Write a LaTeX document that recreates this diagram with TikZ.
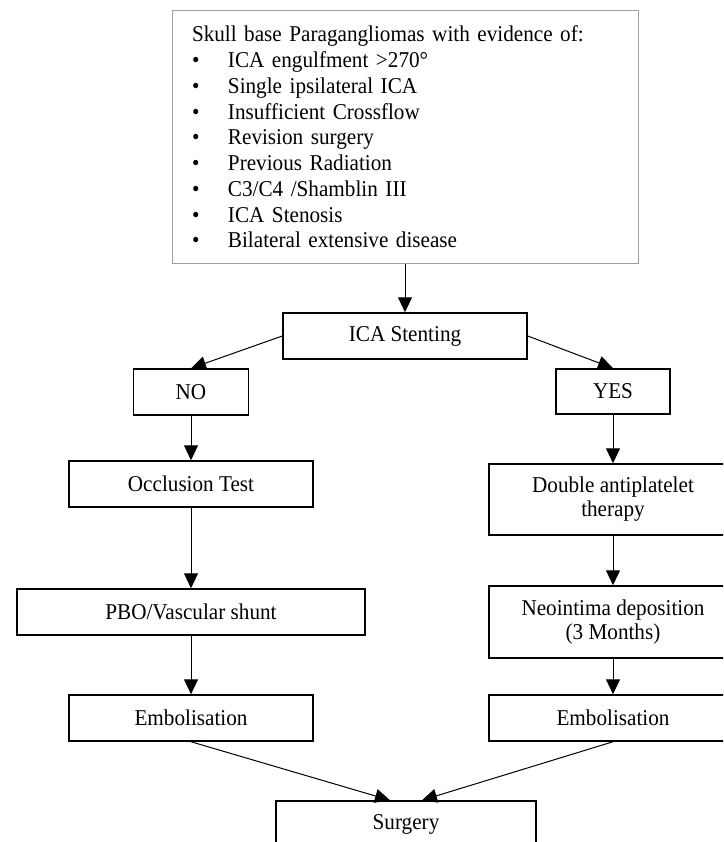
\documentclass[tikz,border=0pt]{standalone}
\usepackage{fontspec}
\setmainfont{Liberation Serif}[FakeStretch=0.937]
\usetikzlibrary{arrows.meta}

\newcommand{\critem}{\makebox[36pt][l]{•}}

\begin{document}
\begin{tikzpicture}[x=1pt,y=-1pt,
	box/.style={draw,line width=1.5pt,align=center,inner sep=0pt,font=\fontsize{22.6}{24}\selectfont},
	arr/.style={line width=1pt,-{Triangle[width=14pt,length=15pt]}}]
	\useasboundingbox (0,0) rectangle (723,842);
	\clip (0,0) rectangle (723,842);

	\node[draw=gray!75,line width=1pt,minimum width=466pt,minimum height=252pt,
		text width=426pt,inner xsep=20pt,inner ysep=0pt,align=left,
		font=\fontsize{22.6}{25.75}\selectfont] (crit) at (405,137)
		{Skull base Paragangliomas with evidence of:\\
		\critem ICA engulfment >270°\\
		\critem Single ipsilateral ICA\\
		\critem Insufficient Crossflow\\
		\critem Revision surgery\\
		\critem Previous Radiation\\
		\critem C3/C4 /Shamblin III\\
		\critem ICA Stenosis\\
		\critem Bilateral extensive disease};

	\node[box,minimum width=244pt,minimum height=46pt] (stent) at (405,336) {ICA Stenting};
	\node[box,minimum width=115pt,minimum height=46pt] (no) at (191,392) {NO};
	\node[box,minimum width=114pt,minimum height=45pt] (yes) at (613,391.5) {YES};

	\node[box,minimum width=244pt,minimum height=46pt] (occl) at (191,484) {Occlusion Test};
	\node[box,minimum width=348pt,minimum height=46pt] (pbo) at (191,612) {PBO/Vascular shunt};
	\node[box,minimum width=244pt,minimum height=46pt] (emb1) at (191,718) {Embolisation};

	\node[box,minimum width=248pt,minimum height=71pt] (dapt) at (613,499.5) {Double antiplatelet\\therapy};
	\node[box,minimum width=248pt,minimum height=72pt] (neo) at (613,622) {Neointima deposition\\(3 Months)};
	\node[box,minimum width=248pt,minimum height=46pt] (emb2) at (613,718) {Embolisation};

	\node[box,minimum width=260pt,minimum height=46pt] (surg) at (406,824) {Surgery};
	\coordinate (surgl) at ([xshift=-16pt]surg.north);
	\coordinate (surgr) at ([xshift=16pt]surg.north);

	\draw[arr] (crit) -- (stent);
	\draw[arr] (stent.west) -- (no.north);
	\draw[arr] (stent.east) -- (yes.north);
	\draw[arr] (no) -- (occl);
	\draw[arr] (occl) -- (pbo);
	\draw[arr] (pbo) -- (emb1);
	\draw[arr] (yes) -- (dapt);
	\draw[arr] (dapt) -- (neo);
	\draw[arr] (neo) -- (emb2);
	\draw[arr] (emb1.south) -- (surgl);
	\draw[arr] (emb2.south) -- (surgr);
\end{tikzpicture}
\end{document}
